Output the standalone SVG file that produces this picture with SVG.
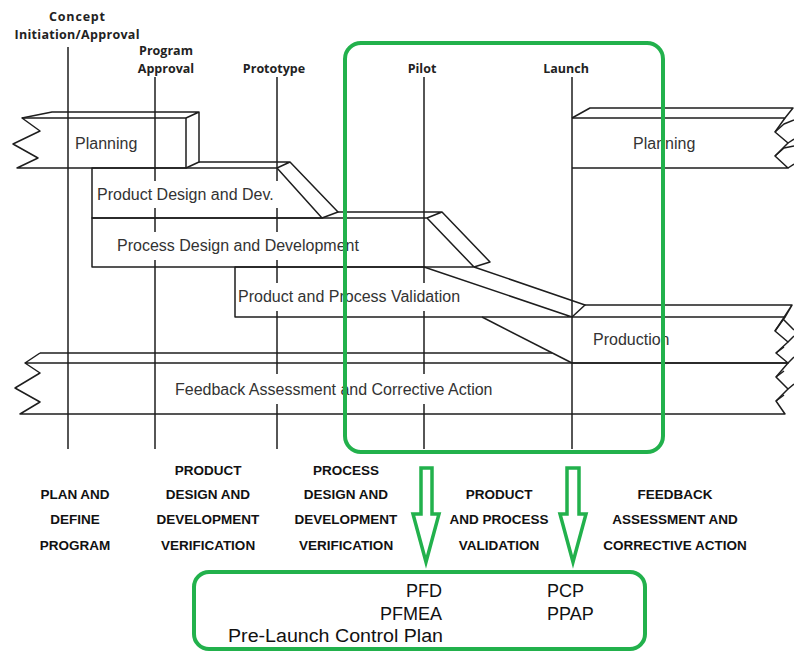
<svg xmlns="http://www.w3.org/2000/svg" width="794" height="652" viewBox="0 0 794 652">
  <style>
    .edge { fill: none; stroke: #1e1e1e; stroke-width: 1.5; stroke-linejoin: round; }
    .tick { stroke: #1e1e1e; stroke-width: 1.5; }
    .hdr { font-family: "Open Sans", "Noto Sans", sans-serif; font-weight: 700; font-size: 12.5px; fill: #222; text-anchor: middle; }
    .band { font-family: "Liberation Sans", Arial, sans-serif; font-size: 16px; fill: #333; }
    .halo { fill: #fff; }
    .phase { font-family: "Liberation Sans", Arial, sans-serif; font-weight: 700; font-size: 13.5px; fill: #111; text-anchor: middle; }
    .green { fill: none; stroke: #22b14c; stroke-width: 4; stroke-linejoin: round; }
    .arrow { fill: #fff; stroke: #22b14c; stroke-width: 3.5; stroke-linejoin: miter; }
    .out { font-family: "Liberation Sans", Arial, sans-serif; font-size: 18px; fill: #111; }
  </style>

  <!-- milestone labels -->
  <g id="milestones">
    <text class="hdr" x="77" y="21" textLength="56">Concept</text>
    <text class="hdr" x="77" y="39" textLength="125">Initiation/Approval</text>
    <text class="hdr" x="166" y="55">Program</text>
    <text class="hdr" x="166" y="73">Approval</text>
    <text class="hdr" x="274" y="73">Prototype</text>
    <text class="hdr" x="422" y="73">Pilot</text>
    <text class="hdr" x="566" y="73">Launch</text>
  </g>

  <!-- milestone time lines -->
  <g id="timelines">
    <line class="tick" x1="68" y1="47" x2="68" y2="449"/>
    <line class="tick" x1="155" y1="77" x2="155" y2="449"/>
    <line class="tick" x1="277" y1="77" x2="277" y2="449"/>
    <line class="tick" x1="424" y1="77" x2="424" y2="449"/>
    <line class="tick" x1="572" y1="77" x2="572" y2="449"/>
  </g>

  <!-- phase bands -->
  <g id="planning-left">
    <path class="edge" d="M186,118 L22,118 L40,131 L13,144 L38,158 L17,168 L186,168 Z"/>
    <path class="edge" d="M22,118 L52,112 L199,112 L199,162 L186,168 M186,118 L199,112"/>
  </g>

  <g id="product-design">
    <path class="edge" d="M92,168 L277,168 L322,218 L92,218 Z"/>
    <path class="edge" d="M199,162 L290,162 L338,212 L322,218 M277,168 L290,162"/>
  </g>

  <g id="process-design">
    <path class="edge" d="M92,218 L427,218 L474,267 L92,267 Z"/>
    <path class="edge" d="M338,212 L442,212 L490,262 L474,267 M427,218 L442,212"/>
  </g>

  <g id="validation">
    <path class="edge" d="M235,267 L424,267 L572,317 L235,317 Z"/>
    <path class="edge" d="M474,267 L585,305 L572,317"/>
    <path class="edge" d="M482,317 L572,363"/>
  </g>

  <g id="production">
    <path class="edge" d="M572,317 L785,317 L775,331 L788,342 L776,353 L788,363 L572,363"/>
    <path class="edge" d="M585,305 L792,305 L783,319 L794,330 M785,317 L792,305 M775,331 L783,319 M788,342 L794,336 M776,353 L784,347"/>
  </g>

  <g id="feedback">
    <path class="edge" d="M40,353 L552,353"/>
    <path class="edge" d="M25,363 L788,363 L776,377 L788,389 L776,401 L785,414 L20,414 L40,402 L15,388 L40,373 L25,363 L40,353"/>
    <path class="edge" d="M788,363 L794,357 M776,377 L784,371 M788,389 L794,384 M776,401 L784,395"/>
  </g>

  <g id="planning-right">
    <path class="edge" d="M572,118 L785,118 L775,132 L788,143 L775,156 L788,168 L572,168"/>
    <path class="edge" d="M572,118 L590,108 L793,108 L785,118 M775,132 L784,124 L794,120 M788,143 L794,139 M775,156 L784,148 L794,146 M788,168 L794,164"/>
  </g>

  <!-- band captions, each on a white ground that interrupts the time lines -->
  <g id="captions">
    <rect class="halo" x="73" y="132" width="66" height="26"/>
    <text class="band" x="75" y="149">Planning</text>
    <rect class="halo" x="95" y="181" width="184" height="27"/>
    <text class="band" x="97" y="200">Product Design and Dev.</text>
    <rect class="halo" x="115" y="232" width="248" height="28"/>
    <text class="band" x="117" y="251">Process Design and Development</text>
    <rect class="halo" x="236" y="283" width="232" height="28"/>
    <text class="band" x="238" y="302">Product and Process Validation</text>
    <rect class="halo" x="591" y="326" width="82" height="26"/>
    <text class="band" x="593" y="345">Production</text>
    <rect class="halo" x="173" y="374" width="328" height="30"/>
    <text class="band" x="175" y="395">Feedback Assessment and Corrective Action</text>
    <rect class="halo" x="631" y="132" width="66" height="26"/>
    <text class="band" x="633" y="149">Planning</text>
  </g>

  <!-- phase names -->
  <g id="phases">
    <text class="phase" x="75" y="499">PLAN AND</text>
    <text class="phase" x="75" y="524">DEFINE</text>
    <text class="phase" x="75" y="550">PROGRAM</text>

    <text class="phase" x="208" y="475">PRODUCT</text>
    <text class="phase" x="208" y="499">DESIGN AND</text>
    <text class="phase" x="208" y="524">DEVELOPMENT</text>
    <text class="phase" x="208" y="550">VERIFICATION</text>

    <text class="phase" x="346" y="475">PROCESS</text>
    <text class="phase" x="346" y="499">DESIGN AND</text>
    <text class="phase" x="346" y="524">DEVELOPMENT</text>
    <text class="phase" x="346" y="550">VERIFICATION</text>

    <text class="phase" x="499" y="499">PRODUCT</text>
    <text class="phase" x="499" y="524">AND PROCESS</text>
    <text class="phase" x="499" y="550">VALIDATION</text>

    <text class="phase" x="675" y="499">FEEDBACK</text>
    <text class="phase" x="675" y="524">ASSESSMENT AND</text>
    <text class="phase" x="675" y="550">CORRECTIVE ACTION</text>
  </g>

  <!-- highlight frame around pilot and launch -->
  <g id="focus-frame">
    <rect class="green" x="345" y="43" width="318" height="409" rx="16" ry="16"/>
  </g>

  <!-- hollow arrows down to the deliverables -->
  <g id="connectors">
    <path class="arrow" d="M421,468 L432,468 L432,514 L439,514 L426,562 L413,514 L421,514 Z"/>
    <path class="arrow" d="M567,468 L579,468 L579,514 L586,514 L573,562 L560,514 L567,514 Z"/>
  </g>

  <!-- deliverables -->
  <g id="deliverables">
    <rect class="green" x="194" y="572" width="451" height="77" rx="15" ry="15"/>
    <text class="out" x="442" y="597" text-anchor="end">PFD</text>
    <text class="out" x="442" y="620" text-anchor="end">PFMEA</text>
    <text class="out" x="443" y="642" text-anchor="end" textLength="215" lengthAdjust="spacingAndGlyphs">Pre-Launch Control Plan</text>
    <text class="out" x="547" y="597">PCP</text>
    <text class="out" x="547" y="620">PPAP</text>
  </g>
</svg>
